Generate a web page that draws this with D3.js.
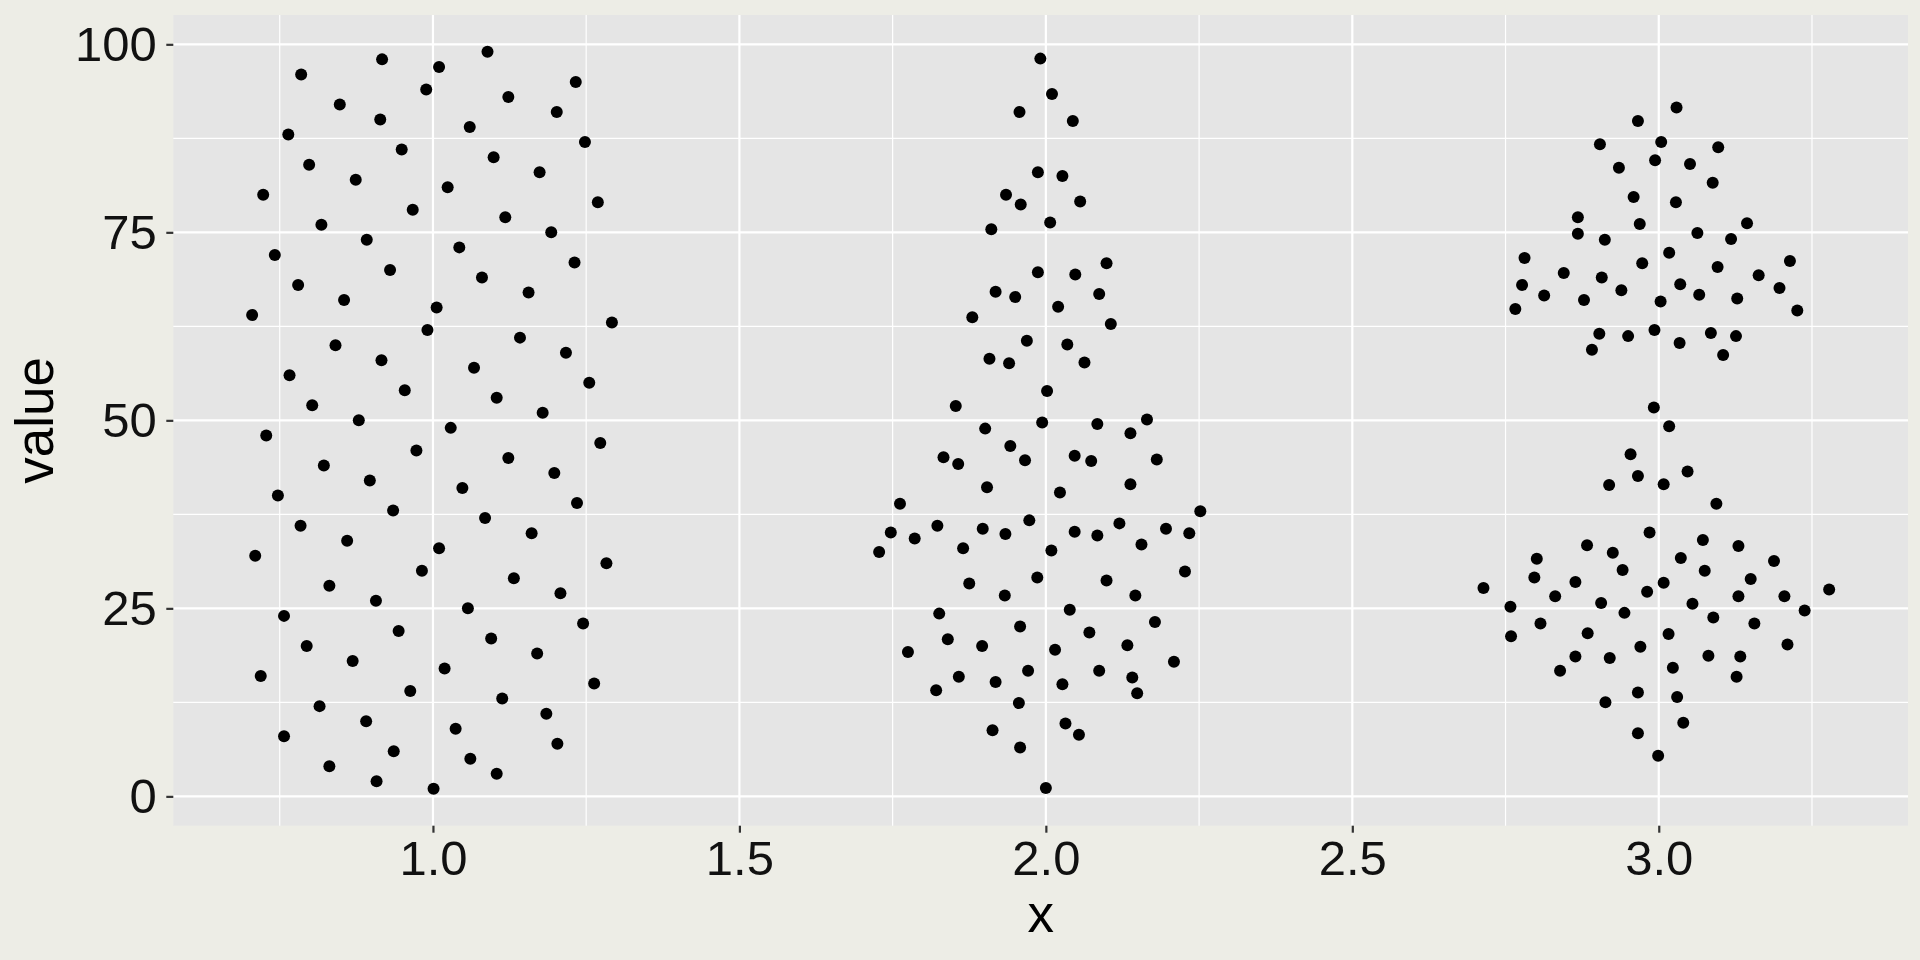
<!DOCTYPE html>
<html>
<head>
<meta charset="utf-8">
<script src="https://cdn.jsdelivr.net/npm/d3@7/dist/d3.min.js"></script>
<style>
  html, body { margin: 0; padding: 0; background: #EDEDE6; }
  svg { display: block; font-family: "Liberation Sans", Arial, sans-serif; }
</style>
</head>
<body>
<svg id="chart" width="1920" height="960"></svg>
<script>
// ---------- DATA ----------
const xTicks = [1.0, 1.5, 2.0, 2.5, 3.0];
const yTicks = [0, 25, 50, 75, 100];
const xTitle = "x";
const yTitle = "value";

// group 1 (centred on x = 1)
const g1y = [1,2,3,4,5,6,7,8,9,10,11,12,13,14,15,16,17,18,19,20,21,22,23,24,25,26,27,28,29,30,31,32,33,34,35,36,37,38,39,40,41,42,43,44,45,46,47,48,49,50,51,52,53,54,55,56,57,58,59,60,61,62,63,64,65,66,67,68,69,70,71,72,73,74,75,76,77,78,79,80,81,82,83,84,85,86,87,88,89,90,91,92,93,94,95,96,97,98,99];
const g1x = [1.001,0.908,1.104,0.831,1.061,0.936,1.203,0.757,1.037,0.891,1.185,0.815,1.113,0.963,1.263,0.719,1.019,0.869,1.170,0.794,1.095,0.944,1.245,0.757,1.057,0.907,1.208,0.831,1.132,0.982,1.283,0.710,1.010,0.860,1.161,0.784,1.085,0.935,1.235,0.747,1.048,0.897,1.198,0.822,1.123,0.973,1.273,0.728,1.029,0.879,1.179,0.803,1.104,0.954,1.255,0.766,1.067,0.916,1.217,0.841,1.142,0.991,1.292,0.705,1.006,0.855,1.156,0.780,1.080,0.930,1.231,0.742,1.043,0.892,1.193,0.818,1.118,0.967,1.269,0.723,1.024,0.874,1.174,0.798,1.099,0.949,1.248,0.764,1.060,0.914,1.202,0.848,1.123,0.989,1.233,0.785,1.010,0.917,1.089];

// group 2 (centred on x = 2)
const g2x = [1.991,2.010,1.957,2.044,1.987,2.027,1.935,1.959,2.056,2.007,1.911,2.099,1.987,2.048,1.918,1.950,2.087,2.020,1.880,2.106,1.969,2.035,1.908,1.940,2.063,2.002,1.853,1.994,2.084,2.165,1.901,2.138,1.942,1.833,1.857,1.966,2.047,2.074,2.181,1.904,2.138,2.023,1.762,2.252,1.973,1.823,2.120,2.196,1.747,1.897,1.934,2.047,2.084,2.234,1.786,2.156,1.728,1.865,2.009,1.986,1.875,2.099,2.227,1.933,2.146,2.039,1.826,2.178,1.958,2.071,1.840,1.896,2.015,1.775,2.133,2.209,1.971,2.087,1.858,1.918,2.027,2.141,1.821,2.149,1.956,1.913,2.032,2.054,1.958,2.000];
const g2y = [98.1,93.4,91.0,89.8,83.0,82.5,80.0,78.7,79.1,76.3,75.4,70.9,69.7,69.4,67.1,66.4,66.8,65.1,63.7,62.8,60.6,60.1,58.2,57.6,57.7,53.9,51.9,49.7,49.5,50.1,48.9,48.3,46.6,45.1,44.2,44.7,45.3,44.6,44.8,41.1,41.5,40.4,38.9,37.9,36.7,36.0,36.3,35.6,35.1,35.6,34.9,35.2,34.7,35.0,34.3,33.5,32.5,33.0,32.7,29.1,28.3,28.7,29.9,26.7,26.7,24.8,24.3,23.2,22.6,21.8,20.9,20.0,19.5,19.2,20.1,17.9,16.7,16.7,15.9,15.2,14.9,15.8,14.1,13.7,12.4,8.8,9.7,8.2,6.5,1.1];

// group 3 (centred on x = 3)
const g3x = [3.029,2.966,2.904,3.004,3.097,2.994,2.935,3.051,3.088,2.959,3.028,2.868,2.969,3.144,2.868,3.063,2.912,3.118,3.017,2.781,3.214,2.973,3.096,2.845,3.163,2.907,2.777,3.035,3.197,2.813,2.939,3.066,2.878,3.128,3.003,2.766,3.226,2.903,2.950,2.993,3.085,3.126,3.034,2.891,3.105,2.992,3.017,2.954,2.966,2.919,3.008,3.047,3.094,2.985,2.883,3.072,3.130,2.925,2.801,3.036,3.188,2.941,3.075,2.714,2.797,2.864,3.008,3.150,3.278,2.831,2.981,3.130,3.205,2.906,3.055,2.758,2.944,3.238,3.089,2.807,3.156,2.884,3.016,2.759,3.210,2.970,2.864,2.920,3.081,3.133,2.839,3.023,3.127,2.966,3.030,2.913,3.040,2.966,2.999];
const g3y = [91.6,89.8,86.7,87.0,86.3,84.6,83.6,84.1,81.6,79.7,79.0,77.0,76.1,76.2,74.8,74.9,74.0,74.1,72.3,71.6,71.2,70.9,70.4,69.6,69.3,69.0,68.0,68.1,67.6,66.6,67.3,66.7,66.0,66.2,65.8,64.8,64.6,61.5,61.2,62.0,61.6,61.2,60.3,59.4,58.7,51.7,49.2,45.5,42.6,41.4,41.5,43.2,38.9,35.1,33.4,34.1,33.3,32.4,31.6,31.7,31.3,30.1,30.0,27.7,29.1,28.5,28.4,28.9,27.5,26.6,27.2,26.6,26.6,25.7,25.6,25.2,24.4,24.7,23.8,23.0,23.0,21.7,21.6,21.3,20.2,19.9,18.6,18.4,18.7,18.6,16.7,17.1,15.9,13.8,13.2,12.5,9.8,8.4,5.4];

// ---------- BUILD ----------
const points = [];
[[g1x, g1y], [g2x, g2y], [g3x, g3y]].forEach(([xs, ys]) => {
  xs.forEach((v, i) => points.push({ x: v, y: ys[i] }));
});

const W = 1920, H = 960;
const panel = { left: 173.3, right: 1908, top: 15, bottom: 825.7 };

function expand(ext, m) { const r = ext[1] - ext[0]; return [ext[0] - r * m, ext[1] + r * m]; }

const x = d3.scaleLinear()
  .domain(expand(d3.extent(points, d => d.x), 0.05))
  .range([panel.left, panel.right]);
const y = d3.scaleLinear()
  .domain(expand(d3.extent(points, d => d.y), 0.05))
  .range([panel.bottom, panel.top]);

const svg = d3.select("#chart");
svg.append("rect").attr("x", 0).attr("y", 0).attr("width", W).attr("height", H).attr("fill", "#EDEDE6");
svg.append("rect")
  .attr("x", panel.left).attr("y", panel.top)
  .attr("width", panel.right - panel.left).attr("height", panel.bottom - panel.top)
  .attr("fill", "#E5E5E5");

// minor grid
const xMinor = xTicks.slice(0, -1).map((t, i) => (t + xTicks[i + 1]) / 2)
  .concat([xTicks[0] - 0.25, xTicks[xTicks.length - 1] + 0.25])
  .filter(v => v > x.domain()[0] && v < x.domain()[1]);
const yMinor = yTicks.slice(0, -1).map((t, i) => (t + yTicks[i + 1]) / 2);

const grid = svg.append("g");
grid.selectAll(".xminor").data(xMinor).join("line")
  .attr("x1", d => x(d)).attr("x2", d => x(d))
  .attr("y1", panel.top).attr("y2", panel.bottom)
  .attr("stroke", "#FFFFFF").attr("stroke-width", 1.2);
grid.selectAll(".yminor").data(yMinor).join("line")
  .attr("y1", d => y(d)).attr("y2", d => y(d))
  .attr("x1", panel.left).attr("x2", panel.right)
  .attr("stroke", "#FFFFFF").attr("stroke-width", 1.2);
grid.selectAll(".xmajor").data(xTicks).join("line")
  .attr("x1", d => x(d)).attr("x2", d => x(d))
  .attr("y1", panel.top).attr("y2", panel.bottom)
  .attr("stroke", "#FFFFFF").attr("stroke-width", 2.2);
grid.selectAll(".ymajor").data(yTicks).join("line")
  .attr("y1", d => y(d)).attr("y2", d => y(d))
  .attr("x1", panel.left).attr("x2", panel.right)
  .attr("stroke", "#FFFFFF").attr("stroke-width", 2.2);

// points
svg.append("g").selectAll("circle").data(points).join("circle")
  .attr("cx", d => x(d.x)).attr("cy", d => y(d.y))
  .attr("r", 6).attr("fill", "#000000");

// axes
const xAxis = svg.append("g")
  .attr("transform", `translate(0,${panel.bottom})`)
  .call(d3.axisBottom(x).tickValues(xTicks).tickFormat(d3.format(".1f")).tickSize(7).tickPadding(7.3));
const yAxis = svg.append("g")
  .attr("transform", `translate(${panel.left},0)`)
  .call(d3.axisLeft(y).tickValues(yTicks).tickSize(7).tickPadding(9.5));
[xAxis, yAxis].forEach(a => {
  a.select(".domain").remove();
  a.selectAll(".tick line").attr("stroke", "#333333").attr("stroke-width", 2.2);
  a.selectAll(".tick text").attr("fill", "#111111")
    .style("font-size", "49px").style("font-family", "'Liberation Sans', Arial, sans-serif");
});

// titles
svg.append("text")
  .attr("x", (panel.left + panel.right) / 2).attr("y", 932)
  .attr("text-anchor", "middle").attr("fill", "#000")
  .style("font-size", "53px").text(xTitle);
svg.append("text")
  .attr("transform", `translate(53,${(panel.top + panel.bottom) / 2}) rotate(-90)`)
  .attr("text-anchor", "middle").attr("fill", "#000")
  .style("font-size", "53px").text(yTitle);
</script>
</body>
</html>
